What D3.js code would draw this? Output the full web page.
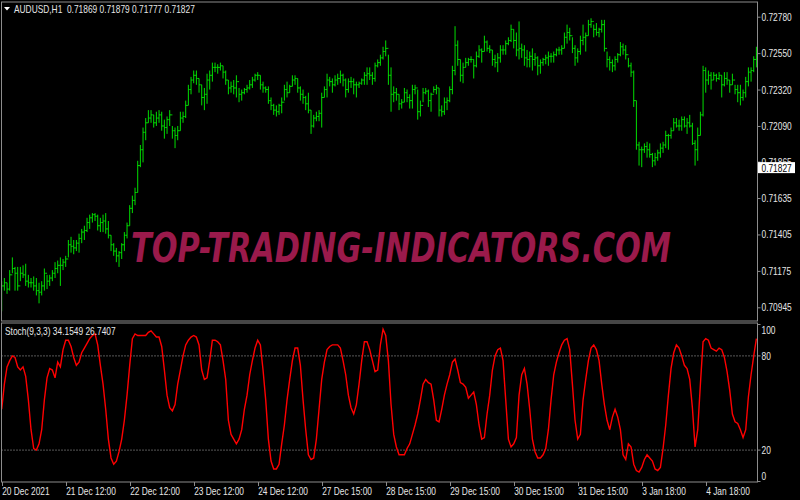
<!DOCTYPE html>
<html><head><meta charset="utf-8">
<script src="https://cdn.jsdelivr.net/npm/d3@7"></script>
<style>html,body{margin:0;padding:0;background:#000;}svg{display:block;}</style>
</head><body>
<script>
// ---------- DATA ----------
const symbolTitle = "AUDUSD,H1  0.71869 0.71879 0.71777 0.71827";
const stochTitle = "Stoch(9,3,3) 34.1549 26.7407";
const watermark = "TOP-TRADING-INDICATORS.COM";
const lastPrice = 0.71827;
const priceTicks = [0.72780, 0.72550, 0.72320, 0.72090, 0.71865, 0.71635, 0.71405, 0.71175, 0.70945];
const stochTicks = [100, 80, 20, 0];
const stochLevels = [80, 20];
const timeLabels = ["20 Dec 2021","21 Dec 12:00","22 Dec 12:00","23 Dec 12:00","24 Dec 12:00","27 Dec 15:00","28 Dec 15:00","29 Dec 15:00","30 Dec 15:00","31 Dec 15:00","3 Jan 18:00","4 Jan 18:00"];
const barsPerLabel = 24;

const highs = [
0.7111,0.7113,0.7110,0.7118,0.7126,0.7120,0.7120,0.7120,0.7121,0.7122,0.7115,0.7113,0.7114,0.7113,0.7110,0.7111,0.7119,0.7115,0.7115,0.7118,
0.7123,0.7124,0.7126,0.7125,0.7127,0.7137,0.7139,0.7137,0.7137,0.7141,0.7144,0.7146,0.7151,0.7153,0.7154,0.7154,0.7153,0.7151,0.7153,0.7154,
0.7149,0.7140,0.7135,0.7132,0.7130,0.7135,0.7142,0.7148,0.7159,0.7165,0.7170,0.7187,0.7197,0.7208,0.7214,0.7219,0.7219,0.7216,0.7218,0.7219,
0.7218,0.7213,0.7215,0.7219,0.7209,0.7208,0.7209,0.7218,0.7218,0.7225,0.7235,0.7240,0.7244,0.7244,0.7239,0.7235,0.7233,0.7242,0.7244,0.7249,
0.7249,0.7248,0.7249,0.7247,0.7244,0.7238,0.7237,0.7238,0.7241,0.7233,0.7232,0.7233,0.7235,0.7238,0.7240,0.7242,0.7243,0.7241,0.7237,0.7234,
0.7234,0.7227,0.7223,0.7222,0.7223,0.7227,0.7235,0.7237,0.7235,0.7241,0.7241,0.7239,0.7234,0.7232,0.7228,0.7230,0.7219,0.7216,0.7218,0.7219,
0.7230,0.7234,0.7242,0.7240,0.7239,0.7241,0.7242,0.7244,0.7242,0.7239,0.7239,0.7240,0.7239,0.7237,0.7237,0.7239,0.7243,0.7246,0.7246,0.7243,
0.7249,0.7251,0.7254,0.7259,0.7263,0.7254,0.7246,0.7234,0.7233,0.7229,0.7226,0.7233,0.7232,0.7229,0.7235,0.7235,0.7232,0.7225,0.7233,0.7233,
0.7232,0.7230,0.7234,0.7235,0.7233,0.7222,0.7227,0.7227,0.7234,0.7247,0.7272,0.7263,0.7251,0.7249,0.7252,0.7252,0.7253,0.7251,0.7256,0.7260,
0.7258,0.7266,0.7263,0.7260,0.7257,0.7254,0.7255,0.7260,0.7260,0.7263,0.7265,0.7273,0.7270,0.7268,0.7275,0.7261,0.7260,0.7257,0.7256,0.7258,
0.7255,0.7253,0.7251,0.7252,0.7254,0.7256,0.7255,0.7256,0.7258,0.7259,0.7260,0.7268,0.7273,0.7271,0.7265,0.7260,0.7258,0.7266,0.7273,0.7268,
0.7276,0.7277,0.7273,0.7274,0.7271,0.7276,0.7276,0.7256,0.7253,0.7251,0.7253,0.7255,0.7262,0.7261,0.7260,0.7252,0.7249,0.7244,0.7225,0.7199,
0.7196,0.7198,0.7199,0.7198,0.7192,0.7192,0.7194,0.7198,0.7199,0.7206,0.7204,0.7208,0.7214,0.7214,0.7213,0.7215,0.7215,0.7214,0.7216,0.7211,
0.7200,0.7208,0.7218,0.7247,0.7246,0.7244,0.7243,0.7243,0.7242,0.7243,0.7241,0.7243,0.7243,0.7238,0.7242,0.7235,0.7235,0.7235,0.7232,0.7240,
0.7246,0.7246,0.7253,0.7259];
const lows = [
0.7092,0.7105,0.7103,0.7105,0.7116,0.7105,0.7105,0.7111,0.7113,0.7108,0.7107,0.7107,0.7105,0.7102,0.7097,0.7102,0.7105,0.7106,0.7108,0.7111,
0.7113,0.7116,0.7108,0.7118,0.7120,0.7126,0.7129,0.7128,0.7130,0.7129,0.7135,0.7137,0.7142,0.7144,0.7148,0.7149,0.7143,0.7142,0.7142,0.7141,
0.7138,0.7130,0.7127,0.7123,0.7120,0.7125,0.7130,0.7138,0.7146,0.7154,0.7159,0.7167,0.7183,0.7186,0.7200,0.7211,0.7211,0.7208,0.7209,0.7211,
0.7206,0.7201,0.7204,0.7209,0.7201,0.7195,0.7200,0.7206,0.7211,0.7214,0.7222,0.7229,0.7236,0.7235,0.7230,0.7222,0.7219,0.7223,0.7232,0.7237,
0.7243,0.7242,0.7244,0.7239,0.7235,0.7229,0.7230,0.7229,0.7227,0.7224,0.7225,0.7229,0.7230,0.7232,0.7233,0.7237,0.7238,0.7232,0.7230,0.7230,
0.7223,0.7219,0.7216,0.7215,0.7216,0.7217,0.7225,0.7227,0.7230,0.7234,0.7235,0.7230,0.7225,0.7223,0.7219,0.7217,0.7204,0.7208,0.7212,0.7212,
0.7208,0.7227,0.7227,0.7234,0.7230,0.7234,0.7235,0.7236,0.7234,0.7227,0.7230,0.7233,0.7229,0.7227,0.7233,0.7235,0.7235,0.7235,0.7238,0.7235,
0.7237,0.7246,0.7247,0.7251,0.7253,0.7235,0.7218,0.7224,0.7225,0.7219,0.7220,0.7224,0.7224,0.7220,0.7220,0.7229,0.7213,0.7215,0.7224,0.7229,
0.7221,0.7218,0.7230,0.7229,0.7215,0.7215,0.7216,0.7219,0.7224,0.7229,0.7241,0.7247,0.7237,0.7236,0.7246,0.7247,0.7249,0.7239,0.7246,0.7252,
0.7249,0.7256,0.7256,0.7255,0.7247,0.7246,0.7243,0.7249,0.7254,0.7254,0.7260,0.7262,0.7258,0.7253,0.7251,0.7252,0.7247,0.7246,0.7246,0.7244,
0.7247,0.7241,0.7242,0.7247,0.7248,0.7247,0.7249,0.7249,0.7253,0.7254,0.7254,0.7258,0.7261,0.7263,0.7255,0.7247,0.7249,0.7254,0.7260,0.7256,
0.7266,0.7271,0.7265,0.7266,0.7265,0.7268,0.7256,0.7246,0.7244,0.7243,0.7244,0.7249,0.7253,0.7254,0.7251,0.7246,0.7240,0.7221,0.7194,0.7184,
0.7183,0.7192,0.7189,0.7189,0.7183,0.7184,0.7187,0.7189,0.7192,0.7195,0.7194,0.7201,0.7206,0.7208,0.7206,0.7206,0.7208,0.7204,0.7208,0.7197,
0.7184,0.7187,0.7203,0.7215,0.7230,0.7235,0.7232,0.7238,0.7237,0.7238,0.7227,0.7234,0.7235,0.7230,0.7235,0.7229,0.7224,0.7222,0.7225,0.7227,
0.7234,0.7237,0.7243,0.7246];
const closes = [
0.7108,0.7110,0.7106,0.7115,0.7119,0.7116,0.7108,0.7116,0.7115,0.7111,0.7110,0.7110,0.7108,0.7105,0.7104,0.7108,0.7116,0.7111,0.7113,0.7116,
0.7119,0.7121,0.7121,0.7123,0.7125,0.7134,0.7133,0.7132,0.7135,0.7138,0.7142,0.7143,0.7148,0.7151,0.7153,0.7152,0.7146,0.7148,0.7149,0.7144,
0.7140,0.7134,0.7130,0.7127,0.7129,0.7134,0.7140,0.7146,0.7157,0.7162,0.7167,0.7184,0.7194,0.7205,0.7211,0.7214,0.7216,0.7211,0.7214,0.7216,
0.7209,0.7208,0.7213,0.7216,0.7206,0.7203,0.7206,0.7214,0.7215,0.7222,0.7232,0.7238,0.7241,0.7239,0.7235,0.7227,0.7229,0.7238,0.7241,0.7246,
0.7246,0.7246,0.7247,0.7243,0.7238,0.7233,0.7234,0.7233,0.7237,0.7229,0.7230,0.7232,0.7233,0.7235,0.7238,0.7241,0.7241,0.7235,0.7233,0.7232,
0.7225,0.7222,0.7219,0.7218,0.7222,0.7224,0.7232,0.7230,0.7234,0.7238,0.7239,0.7233,0.7229,0.7227,0.7223,0.7219,0.7209,0.7214,0.7215,0.7217,
0.7227,0.7232,0.7238,0.7237,0.7235,0.7238,0.7239,0.7241,0.7238,0.7232,0.7237,0.7237,0.7235,0.7235,0.7236,0.7238,0.7241,0.7242,0.7241,0.7239,
0.7247,0.7249,0.7252,0.7256,0.7258,0.7241,0.7229,0.7230,0.7229,0.7223,0.7224,0.7230,0.7227,0.7225,0.7232,0.7233,0.7218,0.7222,0.7230,0.7231,
0.7225,0.7229,0.7232,0.7233,0.7219,0.7218,0.7224,0.7225,0.7232,0.7244,0.7260,0.7251,0.7241,0.7246,0.7249,0.7251,0.7251,0.7247,0.7253,0.7257,
0.7256,0.7262,0.7258,0.7257,0.7251,0.7249,0.7252,0.7257,0.7257,0.7261,0.7263,0.7270,0.7263,0.7257,0.7258,0.7257,0.7252,0.7251,0.7253,0.7251,
0.7252,0.7247,0.7249,0.7251,0.7252,0.7253,0.7253,0.7254,0.7257,0.7257,0.7258,0.7265,0.7268,0.7266,0.7258,0.7252,0.7256,0.7263,0.7265,0.7266,
0.7273,0.7275,0.7270,0.7268,0.7270,0.7273,0.7258,0.7251,0.7249,0.7247,0.7251,0.7254,0.7259,0.7257,0.7254,0.7247,0.7243,0.7225,0.7197,0.7194,
0.7194,0.7196,0.7194,0.7191,0.7187,0.7189,0.7192,0.7195,0.7197,0.7203,0.7203,0.7206,0.7211,0.7209,0.7209,0.7213,0.7209,0.7211,0.7209,0.7198,
0.7194,0.7203,0.7216,0.7244,0.7238,0.7241,0.7238,0.7241,0.7239,0.7241,0.7235,0.7239,0.7238,0.7235,0.7238,0.7232,0.7230,0.7227,0.7230,0.7237,
0.7243,0.7244,0.7251,0.7254];
const stochMain = [
46,62,73,77,80,79,73,71,73,67,52,33,21,20,24,33,52,66,72,71,
66,76,73,84,90,90,86,79,74,76,82,85,88,91,93,94,87,74,62,46,
27,15,11,13,19,27,39,55,74,91,94,93,93,93,93,95,96,94,92,92,
86,71,55,47,45,49,62,71,80,87,90,92,93,92,87,71,65,66,77,90,
90,89,87,77,65,39,30,27,24,27,33,46,55,68,77,85,90,87,71,52,
27,13,8,8,11,24,36,52,65,77,85,85,74,52,33,17,14,15,27,46,
65,76,84,86,87,87,87,85,77,68,55,47,43,49,62,77,89,89,84,77,
70,71,87,97,93,77,49,30,22,17,17,17,21,24,30,36,43,52,62,65,
63,62,52,39,38,46,55,62,68,76,78,71,63,62,60,53,55,57,49,36,
27,28,43,55,71,80,84,85,77,52,27,22,24,28,55,68,72,62,46,27,
19,15,15,17,21,33,52,68,76,82,87,90,91,84,62,39,27,30,52,65,
77,85,87,84,77,62,49,39,33,41,46,41,33,17,14,24,22,11,7,6,
9,14,17,15,13,8,7,9,21,36,55,72,82,87,85,80,74,72,65,47,
22,33,62,89,91,90,85,84,83,85,84,79,70,58,43,38,37,33,28,33,
54,68,80,91];

// ---------- LAYOUT ----------
const W = 800, H = 500;
const panelL = 1.5, panelR = 757.5;
const mainTop = 2, mainBot = 321;
const subTop = 323, subBot = 482;
const axisColor = "#8c8c8c", textColor = "#e6e6e6";
const font = "'Liberation Sans', Arial, sans-serif";
const textSquash = 0.76;

const svg = d3.select("body").append("svg").attr("width", W).attr("height", H)
  .style("background", "#000");
svg.append("rect").attr("width", W).attr("height", H).attr("fill", "#000");

const nBars = closes.length;
const x = d3.scaleLinear().domain([0, 283]).range([1.7, 756.4]);
const y = d3.scaleLinear().domain([0.70945, 0.72780]).range([307.3, 16.7]);
const ys = d3.scaleLinear().domain([0, 100]).range([481.5, 324.5]);

// watermark
svg.append("text").attr("x", 131).attr("y", 262)
  .attr("font-family", "'DejaVu Sans', sans-serif").attr("font-weight", "bold").attr("font-style", "italic")
  .attr("font-size", 40).attr("textLength", 540).attr("lengthAdjust", "spacingAndGlyphs")
  .attr("fill", "#9a1a4b").text(watermark);

// bars (OHLC) – open taken as previous close
const opens = closes.map((c, i) => i === 0 ? c : closes[i - 1]);
svg.append("clipPath").attr("id", "clipMain").append("rect")
  .attr("x", panelL).attr("y", mainTop).attr("width", panelR - panelL).attr("height", mainBot - mainTop);
const bars = svg.append("g").attr("clip-path", "url(#clipMain)");
const barColor = "#00dd00";
bars.selectAll("g.bar").data(d3.range(nBars)).join("g").attr("class", "bar").each(function (i) {
  const g = d3.select(this);
  const xi = x(i);
  g.append("line").attr("x1", xi).attr("x2", xi).attr("y1", y(highs[i])).attr("y2", y(lows[i]))
    .attr("stroke", barColor).attr("stroke-width", 1);
  g.append("line").attr("x1", xi - 1.3).attr("x2", xi).attr("y1", y(opens[i])).attr("y2", y(opens[i]))
    .attr("stroke", barColor).attr("stroke-width", 1);
  g.append("line").attr("x1", xi).attr("x2", xi + 1.3).attr("y1", y(closes[i])).attr("y2", y(closes[i]))
    .attr("stroke", barColor).attr("stroke-width", 1);
});

// stochastic
const stG = svg.append("g");
stG.selectAll("line.lvl").data(stochLevels).join("line")
  .attr("x1", panelL).attr("x2", panelR).attr("y1", d => ys(d)).attr("y2", d => ys(d))
  .attr("stroke", "#b0b0b0").attr("stroke-width", 1).attr("stroke-dasharray", "1,2");
svg.append("clipPath").attr("id", "clipSub").append("rect")
  .attr("x", panelL).attr("y", subTop).attr("width", panelR - panelL).attr("height", subBot - subTop);
stG.append("path").datum(stochMain).attr("clip-path", "url(#clipSub)")
  .attr("d", d3.line().x((d, i) => x(i)).y(d => ys(d)))
  .attr("fill", "none").attr("stroke", "#ff0000").attr("stroke-width", 1.4);

// panel borders
svg.append("rect").attr("x", panelL).attr("y", mainTop).attr("width", panelR - panelL).attr("height", mainBot - mainTop)
  .attr("fill", "none").attr("stroke", axisColor).attr("stroke-width", 1);
svg.append("rect").attr("x", panelL).attr("y", subTop).attr("width", panelR - panelL).attr("height", subBot - subTop)
  .attr("fill", "none").attr("stroke", axisColor).attr("stroke-width", 1);

// price axis
const yAxis = d3.axisRight(y).tickValues(priceTicks).tickFormat(d3.format(".5f")).tickSize(3).tickPadding(1);
const ya = svg.append("g").attr("transform", `translate(${panelR},0)`).call(yAxis);
ya.select(".domain").remove();
ya.selectAll("line").attr("stroke", axisColor);
ya.selectAll("text").attr("fill", textColor).attr("font-family", font).attr("font-size", 11).attr("class", "sq");

// current price box
const lp = svg.append("g").attr("transform", `translate(${panelR},${y(lastPrice)})`);
lp.append("rect").attr("x", 0.5).attr("y", -5.5).attr("width", 37).attr("height", 11).attr("fill", "#fff");
lp.append("text").attr("x", 4).attr("y", 4).attr("font-family", font).attr("font-size", 11).attr("fill", "#000")
  .attr("class", "sq").text(d3.format(".5f")(lastPrice));

// stoch axis
const sa = svg.append("g").attr("transform", `translate(${panelR},0)`);
sa.selectAll("line").data(stochTicks).join("line")
  .attr("x1", 0).attr("x2", 3).attr("y1", d => ys(d)).attr("y2", d => ys(d)).attr("stroke", axisColor);
sa.selectAll("text").data(stochTicks).join("text")
  .attr("x", 4).attr("y", d => d === 100 ? ys(d) + 9 : d === 0 ? ys(d) - 2 : ys(d) + 4)
  .attr("fill", textColor).attr("font-family", font).attr("font-size", 11).attr("class", "sq").text(d => d);

// time axis
const tIdx = timeLabels.map((_, k) => k * barsPerLabel);
const tg = svg.append("g");
tg.selectAll("line").data(tIdx).join("line")
  .attr("x1", d => Math.round(x(d)) + 0.5).attr("x2", d => Math.round(x(d)) + 0.5)
  .attr("y1", subBot).attr("y2", subBot + 4).attr("stroke", axisColor);
tg.selectAll("text").data(tIdx).join("text")
  .attr("x", d => x(d) + 0.5).attr("y", 495)
  .attr("fill", textColor).attr("font-family", font).attr("font-size", 11).attr("class", "sq")
  .text((d, k) => timeLabels[k]);

// titles
svg.append("path").attr("d", "M4,7 L10,7 L7,10.5 Z").attr("fill", "#fff");
svg.append("text").attr("x", 14).attr("y", 13).attr("fill", textColor).attr("font-family", font).attr("font-size", 11)
  .attr("class", "sq").style("white-space", "pre").text(symbolTitle);
svg.append("text").attr("x", 5).attr("y", 335).attr("fill", textColor).attr("font-family", font).attr("font-size", 11)
  .attr("class", "sq").text(stochTitle);

// narrow the UI font to match the terminal's condensed look
svg.selectAll("text.sq").each(function () {
  const w = this.getComputedTextLength();
  d3.select(this).attr("textLength", w * textSquash).attr("lengthAdjust", "spacingAndGlyphs");
});
</script>
</body></html>
